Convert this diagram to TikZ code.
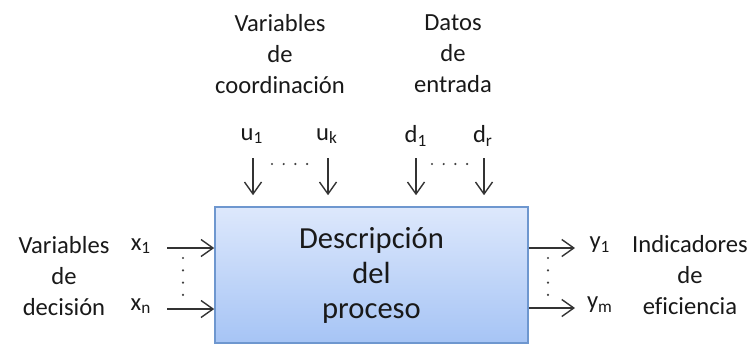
\documentclass[tikz,border=0pt]{standalone}
\usepackage{fontspec}
\setmainfont[Ligatures=NoCommon]{Carlito}
\usepackage{xcolor}
\usetikzlibrary{arrows.meta}
\definecolor{cajaarriba}{HTML}{DDE8FC}
\definecolor{cajaabajo}{HTML}{A6C4F5}
\definecolor{cajaborde}{HTML}{6E97CF}

\begin{document}
\begin{tikzpicture}[x=0.5pt, y=-0.5pt,
    etiq/.style={font=\fontsize{12.3}{15.5}\selectfont, text=black!90, inner sep=0pt, align=center},
    flecha/.style={-{Straight Barb[length=6pt,width=8.5pt]}, line width=0.7pt, draw=black!80},
    punto/.style={fill=black!75},
    caja/.style={draw=cajaborde, line width=0.8pt, top color=cajaarriba, bottom color=cajaabajo,
        minimum width=156.5pt, minimum height=68pt, inner sep=0pt, align=center,
        text=black!90, font=\fontsize{15.3}{17.5}\selectfont}]
    \useasboundingbox (0,0) rectangle (754,345);

    % El bloque del proceso
    \node[caja] (proc) at (371.5,275) {Descripción\\del\\proceso};

    % Entradas de arriba
    \node[etiq] (coord) at (280,54) {Variables\\de\\coordinación};
    \node[etiq] (datos) at (453,54) {Datos\\de\\entrada};
    \node[etiq] (u1) at (252,136) {u\textsubscript{1}};
    \node[etiq] (uk) at (327,136) {u\textsubscript{k}};
    \node[etiq] (d1) at (416,136) {d\textsubscript{1}};
    \node[etiq] (dr) at (483,136) {d\textsubscript{r}};

    \coordinate (u1a) at (253,158);
    \coordinate (uka) at (328,158);
    \coordinate (d1a) at (416,158);
    \coordinate (dra) at (484,158);
    \foreach \c in {u1a, uka, d1a, dra}
        \draw[flecha, shorten >=5.5pt] (\c) -- (\c |- proc.north);

    \foreach \i in {0,...,3} {
        \fill[punto] (272+11.7*\i,164) circle (0.6pt);
        \fill[punto] (432+11.7*\i,164) circle (0.6pt);
    }

    % Entradas de la izquierda
    \node[etiq] (decis) at (64,276) {Variables\\de\\decisión};
    \node[etiq] (x1) at (141,246) {x\textsubscript{1}};
    \node[etiq] (xn) at (141,306) {x\textsubscript{n}};
    \coordinate (x1a) at (167,248);
    \coordinate (xna) at (167,309);
    \draw[flecha] (x1a) -- (x1a -| proc.west);
    \draw[flecha] (xna) -- (xna -| proc.west);
    \foreach \i in {0,...,3}
        \fill[punto] (183,258+12.3*\i) circle (0.6pt);

    % Salidas de la derecha
    \coordinate (y1a) at (575,248);
    \coordinate (yma) at (575,308);
    \draw[flecha] (y1a -| proc.east) -- (y1a);
    \draw[flecha] (yma -| proc.east) -- (yma);
    \node[etiq] (y1) at (600,245) {y\textsubscript{1}};
    \node[etiq] (ym) at (600,305) {y\textsubscript{m}};
    \node[etiq] (indic) at (690,275) {Indicadores\\de\\eficiencia};
    \foreach \i in {0,...,3}
        \fill[punto] (548,258+12.3*\i) circle (0.6pt);
\end{tikzpicture}
\end{document}
